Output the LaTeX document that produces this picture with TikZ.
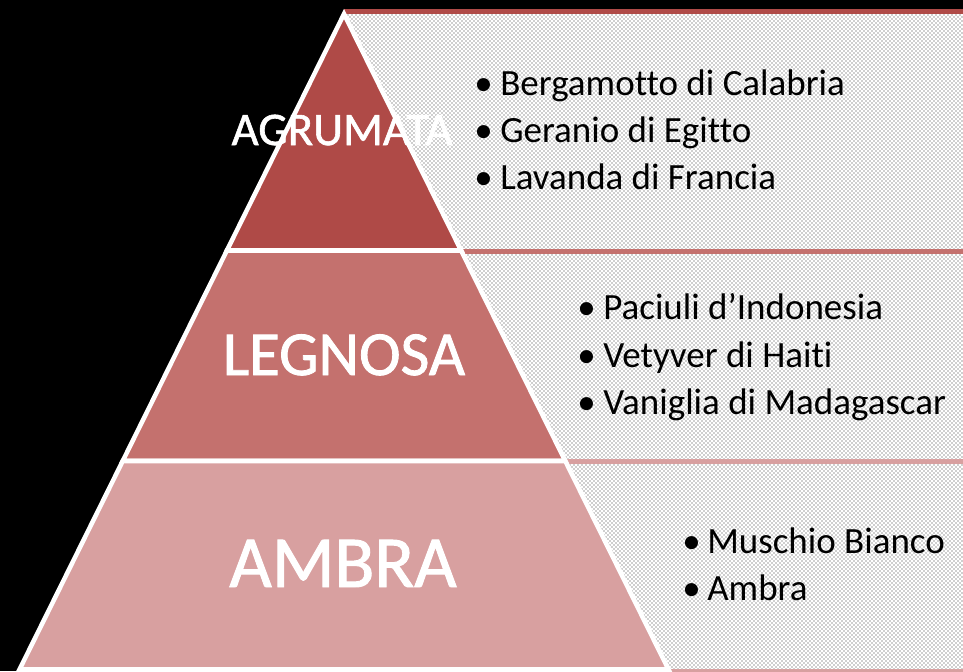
\documentclass[tikz,border=0pt]{standalone}
\usepackage{fontspec}
\setmainfont{Carlito}[Ligatures={NoCommon}]
\newfontfamily\titlefont{Carlito}[FakeBold=1.3]
\usetikzlibrary{patterns}
\definecolor{tierA}{HTML}{AF4A47}
\definecolor{tierB}{HTML}{C4716E}
\definecolor{tierC}{HTML}{D8A0A0}
\begin{document}
\begin{tikzpicture}[x=0.75pt,y=-0.75pt,
  tier/.style={draw=white,line width=3.4pt,line join=miter},
  title/.style={text=white,inner sep=0pt,anchor=base},
  item/.style={inner sep=0pt,anchor=base west,text=black,font=\fontsize{27.75}{30}\selectfont},
  panel/.style={fill=white,postaction={pattern=crosshatch dots,pattern color=black!80}},
  edge/.style={line width=3.75pt}]
\fill[black] (0,0) rectangle (963,671);
\useasboundingbox (0,0) rectangle (963,671);
% panels
\path[panel] (344,11.5) rectangle (963,251);
\path[panel] (344,251) rectangle (963,461.5);
\path[panel] (344,461.5) rectangle (963,671);
\draw[edge,tierA] (344,11.5) -- (963,11.5);
\draw[edge,tierB] (344,251) -- (963,251);
\draw[edge,tierC] (344,461.5) -- (963,461.5);
\draw[line width=2.5pt,tierC] (344,670.5) -- (963,670.5);
% pyramid
\draw[tier,fill=tierA] (344,14) -- (461.1,250.5) -- (226.9,250.5) -- cycle;
\draw[tier,fill=tierB] (226.9,250.5) -- (461.1,250.5) -- (565.3,461) -- (122.7,461) -- cycle;
\draw[tier,fill=tierC] (122.7,461) -- (565.3,461) -- (668.5,669.5) -- (19.5,669.5) -- cycle;
% titles
\node[title,font=\titlefont\fontsize{35}{40}\selectfont] (agr) at (342,145) {AGRUMATA};
\node[title,font=\titlefont\fontsize{47}{50}\selectfont] (leg) at (344,375) {LEGNOSA};
\node[title,font=\titlefont\fontsize{55}{60}\selectfont] (amb) at (343,587) {AMBRA};
% box 1
\node[item] (b11) at (474,95) {•};
\node[item] (t11) at (500,95) {Bergamotto di Calabria};
\node[item] (b12) at (474,142) {•};
\node[item] (t12) at (500,142) {Geranio di Egitto};
\node[item] (b13) at (474,189) {•};
\node[item] (t13) at (500,189) {Lavanda di Francia};
% box 2
\node[item] (b21) at (577,319) {•};
\node[item] (t21) at (603,319) {Paciuli d’Indonesia};
\node[item] (b22) at (577,367) {•};
\node[item] (t22) at (603,367) {Vetyver di Haiti};
\node[item] (b23) at (577,414) {•};
\node[item] (t23) at (603,414) {Vaniglia di Madagascar};
% box 3
\node[item] (b31) at (682,553) {•};
\node[item] (t31) at (707,553) {Muschio Bianco};
\node[item] (b32) at (682,600) {•};
\node[item] (t32) at (707,600) {Ambra};
\end{tikzpicture}
\end{document}
